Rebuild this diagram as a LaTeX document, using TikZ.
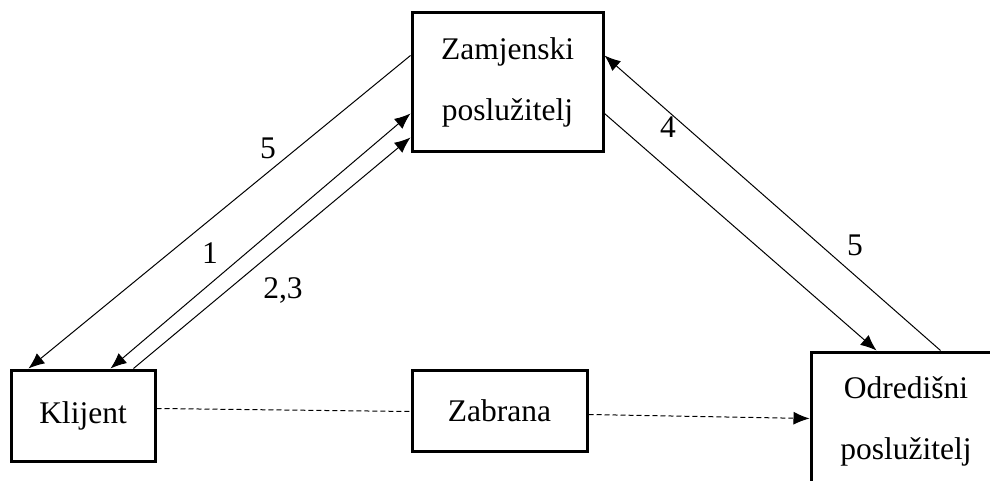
\documentclass[tikz,border=0pt]{standalone}
\usepackage{fontspec}
\setmainfont{Liberation Serif}
\usetikzlibrary{arrows.meta}
\tikzset{
every picture/.style={x=0.5pt, y=-0.5pt, >={Latex[length=8pt,width=6.5pt]}},
%%%%%%%%%%  Node styles
box/.style={draw, line width=1.5pt, inner sep=0pt, align=center,
            font=\fontsize{15.75}{30.5}\selectfont},
numlabel/.style={anchor=base, inner sep=0pt,
                 font=\fontsize{15.75}{19}\selectfont},
%%%% different line styles:
link/.style={line width=0.5pt},
blocked/.style={line width=0.5pt, dash pattern=on 2.5pt off 1.5pt}
}

\begin{document}
\begin{tikzpicture}
\clip (0,0) rectangle (990,481);
\node[box, minimum width=95.5pt, minimum height=69pt] (zam) at (507.5,82)
             {Zamjenski\\poslužitelj};
\node[box, minimum width=72pt, minimum height=45.5pt] (kli) at (83,415.5) {Klijent};
\node[box, minimum width=87.5pt, minimum height=40.5pt] (zab) at (499.5,410.5) {Zabrana};
\node[box, minimum width=95pt, minimum height=69pt] (odr) at (906,421)
             {Odredišni\\poslužitelj};
\draw[link,->] ([shift={(0,44)}]zam.north west) -- ([shift={(19,0)}]kli.north west);
\draw[link,<->] ([shift={(101,0)}]kli.north west) -- ([shift={(0,102)}]zam.north west);
\draw[link,->] ([shift={(124,0)}]kli.north west) -- ([shift={(0,126)}]zam.north west);
\draw[link,->] ([shift={(131,0)}]odr.north west) -- ([shift={(0,44)}]zam.north east);
\draw[link,->] ([shift={(0,102)}]zam.north east) -- ([shift={(67,0)}]odr.north west);
\draw[blocked] ([shift={(0,40)}]kli.north east) -- ([shift={(0,43)}]zab.north west);
\draw[blocked,->] ([shift={(0,46)}]zab.north east) -- ([shift={(0,68)}]odr.north west);
\node[numlabel] (n5a) at (268,158) {5};
\node[numlabel] (n1) at (210,263) {1};
\node[numlabel] (n23) at (283,298) {2,3};
\node[numlabel] (n4) at (668,138) {4};
\node[numlabel] (n5b) at (855,255) {5};
\end{tikzpicture}
\end{document}
